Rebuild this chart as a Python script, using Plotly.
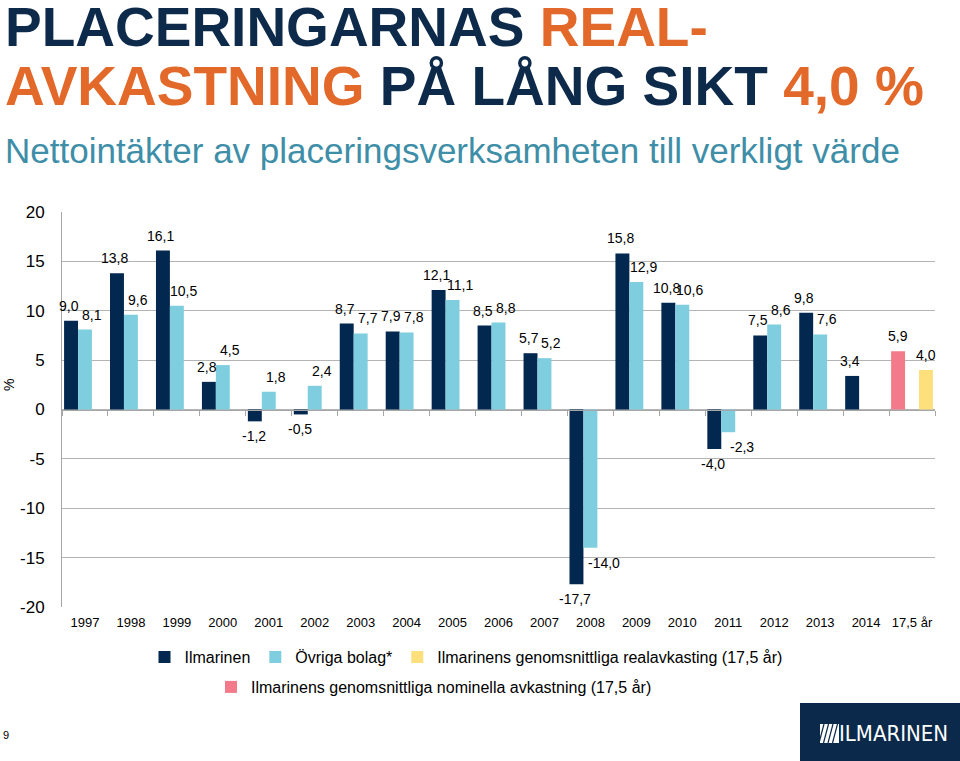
import plotly.graph_objects as go

years = ["1997", "1998", "1999", "2000", "2001", "2002", "2003", "2004", "2005",
         "2006", "2007", "2008", "2009", "2010", "2011", "2012", "2013", "2014"]
avg_label = "17,5 år"
ilmarinen = [9.0, 13.8, 16.1, 2.8, -1.2, -0.5, 8.7, 7.9, 12.1, 8.5, 5.7, -17.7,
             15.8, 10.8, -4.0, 7.5, 9.8, 3.4]
ovriga_years = years[:17]
ovriga = [8.1, 9.6, 10.5, 4.5, 1.8, 2.4, 7.7, 7.8, 11.1, 8.8, 5.2, -14.0,
          12.9, 10.6, -2.3, 8.6, 7.6]
real_avg = [4.0]
nominal_avg = [5.9]
categories = years + [avg_label]

NAVY = "#03284F"
LIGHT = "#7FCEDF"
PINK = "#F27A8A"
YELLOW = "#FDE07C"
ORANGE = "#E2692A"
TITLE_NAVY = "#0D2A4A"
TEAL = "#3E8EA8"
FONT = "Liberation Sans, Arial, sans-serif"

# plot-area geometry (pixels)
L, R, T, B = 62, 935, 212, 607
W, H = 960, 761
BARGAP = 0.09
SLOT = (R - L) / len(categories) * (1 - BARGAP) / 3  # width of one bar slot in px


def px(xp):
    return (xp - L) / (R - L)


def py(yp):
    return (B - yp) / (B - T)


def fmt(v):
    return f"{v:.1f}".replace(".", ",")


fig = go.Figure()
fig.add_trace(go.Bar(x=years, y=ilmarinen, name="Ilmarinen", offsetgroup="a",
                     marker=dict(color=NAVY, line=dict(width=0)), legend="legend",
                     hoverinfo="skip"))
fig.add_trace(go.Bar(x=ovriga_years, y=ovriga, name="Övriga bolag*", offsetgroup="b",
                     marker=dict(color=LIGHT, line=dict(width=0)), legend="legend",
                     hoverinfo="skip"))
fig.add_trace(go.Bar(x=[avg_label], y=real_avg,
                     name="Ilmarinens genomsnittliga realavkasting (17,5 år)", offsetgroup="c",
                     marker=dict(color=YELLOW, line=dict(width=0)), legend="legend",
                     hoverinfo="skip"))
fig.add_trace(go.Bar(x=[avg_label], y=nominal_avg,
                     name="Ilmarinens genomsnittliga nominella avkastning (17,5 år)", offsetgroup="a",
                     marker=dict(color=PINK, line=dict(width=0)), legend="legend2",
                     hoverinfo="skip"))

# invisible helper trace for the zero-line axis with category-boundary ticks
fig.add_trace(go.Scatter(x=[-0.5, len(categories) - 0.5], y=[0, 0], xaxis="x2",
                         mode="lines", line=dict(width=0), showlegend=False, hoverinfo="skip"))

fig.update_layout(
    width=W, height=H,
    margin=dict(l=L, r=W - R, t=T, b=H - B),
    paper_bgcolor="white", plot_bgcolor="white",
    font=dict(family=FONT, color="#000000"),
    barmode="group", bargap=BARGAP, bargroupgap=0,
    xaxis=dict(type="category", categoryorder="array", categoryarray=categories,
               range=[-0.5, len(categories) - 0.5], showline=False, showgrid=False,
               ticks="", tickfont=dict(size=13, color="#000000"), ticklabelstandoff=6,
               zeroline=False, fixedrange=True),
    xaxis2=dict(overlaying="x", anchor="free", position=0.5, type="linear",
                range=[-0.5, len(categories) - 0.5],
                tickvals=[i - 0.5 for i in range(len(categories) + 1)],
                showticklabels=False, ticks="outside", ticklen=5, tickcolor="#A6A6A6",
                showline=True, linecolor="#A6A6A6", linewidth=1, showgrid=False,
                zeroline=False, side="bottom", fixedrange=True),
    yaxis=dict(range=[-20, 20], tickvals=[-20, -15, -10, -5, 0, 5, 10, 15, 20],
               ticktext=["-20", "-15", "-10", "-5", "0", "5", "10", "15", "20"],
               showgrid=True, gridcolor="#B4B4B4", gridwidth=1,
               showline=True, linecolor="#A6A6A6", linewidth=1,
               zeroline=False, tickfont=dict(size=17, color="#000000"),
               ticklabelstandoff=13, fixedrange=True),
    showlegend=True,
    legend=dict(orientation="h", x=px(466), xanchor="center", y=py(657), yanchor="middle",
                font=dict(size=16, color="#000000"), traceorder="normal",
                bgcolor="rgba(0,0,0,0)"),
    legend2=dict(orientation="h", x=px(434), xanchor="center", y=py(687), yanchor="middle",
                 font=dict(size=16, color="#000000"), bgcolor="rgba(0,0,0,0)"),
)

ann = []


def add_labels(xs, ys, slot, pos_dx, neg_dx):
    for xv, yv in zip(xs, ys):
        pos = yv >= 0
        ann.append(dict(x=categories.index(xv), y=yv, xref="x", yref="y", text=fmt(yv),
                        showarrow=False,
                        xshift=slot * SLOT + (pos_dx if pos else neg_dx),
                        yshift=15 if pos else -15, yanchor="middle", xanchor="center",
                        font=dict(size=14, color="#000000", family=FONT)))


add_labels(years, ilmarinen, -1, -2, -1)
add_labels(ovriga_years, ovriga, 0, 7, 14)
add_labels([avg_label], real_avg, 1, 0, 0)
add_labels([avg_label], nominal_avg, -1, 0, 0)

title1 = (f"<span style='color:{TITLE_NAVY}'>PLACERINGARNAS </span>"
          f"<span style='color:{ORANGE}'>REAL-</span>")
title2 = (f"<span style='color:{ORANGE}'>AVKASTNING </span>"
          f"<span style='color:{TITLE_NAVY}'>PÅ LÅNG SIKT </span>"
          f"<span style='color:{ORANGE}'>4,0 %</span>")
page = [
    dict(text=f"<b>{title1}</b>", x=px(3), y=py(27), xanchor="left", yanchor="middle",
         font=dict(size=55, family=FONT)),
    dict(text=f"<b>{title2}</b>", x=px(3), y=py(86), xanchor="left", yanchor="middle",
         font=dict(size=55, family=FONT)),
    dict(text="Nettointäkter av placeringsverksamheten till verkligt värde",
         x=px(3), y=py(150), xanchor="left", yanchor="middle",
         font=dict(size=35, color=TEAL, family=FONT)),
    dict(text="%", x=px(9), y=py(385), textangle=-90, xanchor="center", yanchor="middle",
         font=dict(size=14, color="#000000")),
    dict(text="9", x=px(6), y=py(735), xanchor="center", yanchor="middle",
         font=dict(size=11, color="#000000")),
    dict(text="ILMARINEN", x=px(893), y=py(733), xanchor="center", yanchor="middle",
         font=dict(size=22, color="white", weight=200,
                   family="DejaVu Sans Condensed, Liberation Sans Narrow, sans-serif")),
]
for a in page:
    a.update(xref="paper", yref="paper", showarrow=False)
fig.update_layout(annotations=ann + page)

shapes = [
    dict(type="rect", x0=px(800), x1=px(962), y0=py(703), y1=py(763),
         fillcolor="#0B2A4B", line=dict(width=0)),
    dict(type="rect", x0=px(820), x1=px(839), y0=py(724), y1=py(743),
         fillcolor="white", line=dict(width=0)),
]
for k in range(4):
    x0 = 823 + k * 4.5
    shapes.append(dict(type="line", x0=px(x0 + 1), x1=px(x0 - 4), y0=py(724), y1=py(743),
                       line=dict(color="#0B2A4B", width=1.2)))
for s in shapes:
    s.update(xref="paper", yref="paper", layer="above")
fig.update_layout(shapes=shapes)

fig.write_html("out.html", config={"displayModeBar": False},
               post_script="document.body.style.margin='0';document.body.style.overflow='hidden';")
